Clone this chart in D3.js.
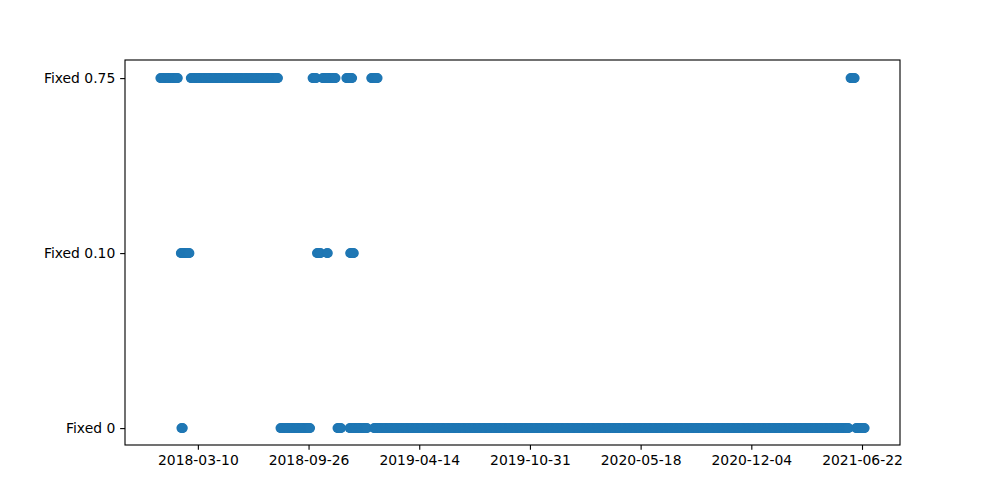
<!DOCTYPE html>
<html>
<head>
<meta charset="utf-8">
<script src="https://cdn.jsdelivr.net/npm/d3@7"></script>
<style>
  html, body { margin: 0; padding: 0; background: #fff; }
  svg { display: block; }
  text { font-family: "DejaVu Sans", sans-serif; }
</style>
</head>
<body>
<div id="chart"></div>
<script>
// Categories (y axis, bottom to top)
const categories = ["Fixed 0", "Fixed 0.10", "Fixed 0.75"];

// Daily category series, run-length encoded: each run is a block of consecutive days
const runStart    = ["2018-01-01","2018-02-25","2018-10-03","2018-10-21","2018-12-03","2019-01-17","2021-06-01",
                     "2018-02-07","2018-10-11","2018-10-29","2018-12-10",
                     "2018-02-08","2018-08-06","2018-11-17","2018-12-09","2019-01-22","2021-06-11"];
const runEnd      = ["2018-02-02","2018-08-02","2018-10-10","2018-11-14","2018-12-14","2019-01-29","2021-06-09",
                     "2018-02-23","2018-10-18","2018-10-31","2018-12-17",
                     "2018-02-11","2018-09-29","2018-11-24","2019-01-10","2021-05-29","2021-06-27"];
const runCategory = ["Fixed 0.75","Fixed 0.75","Fixed 0.75","Fixed 0.75","Fixed 0.75","Fixed 0.75","Fixed 0.75",
                     "Fixed 0.10","Fixed 0.10","Fixed 0.10","Fixed 0.10",
                     "Fixed 0","Fixed 0","Fixed 0","Fixed 0","Fixed 0","Fixed 0"];

// X tick labels
const xTickLabels = ["2018-03-10","2018-09-26","2019-04-14","2019-10-31","2020-05-18","2020-12-04","2021-06-22"];

const W = 1000, H = 500;
const margin = {left: 125, right: 100, top: 60, bottom: 55};
const plotW = W - margin.left - margin.right;
const plotH = H - margin.top - margin.bottom;
const pt = 100 / 72;

const parse = d3.utcParse("%Y-%m-%d");
const fmt = d3.utcFormat("%Y-%m-%d");

// Expand runs into daily points
const points = [];
runStart.forEach((s, i) => {
  const a = parse(s), b = parse(runEnd[i]);
  d3.utcDay.range(a, d3.utcDay.offset(b, 1)).forEach(d => points.push({date: d, cat: runCategory[i]}));
});

const ext = d3.extent(points, d => +d.date);
const pad = (ext[1] - ext[0]) * 0.05;
const x = d3.scaleUtc().domain([new Date(ext[0] - pad), new Date(ext[1] + pad)]).range([0, plotW]);
const catIndex = new Map(categories.map((c, i) => [c, i]));
const y = d3.scaleLinear().domain([-0.1, categories.length - 1 + 0.1]).range([plotH, 0]);

const svg = d3.select("#chart").append("svg").attr("width", W).attr("height", H);
const g = svg.append("g").attr("transform", `translate(${margin.left},${margin.top})`);

g.append("g").attr("transform", "translate(0,0.6)")
  .selectAll("circle").data(points).join("circle")
  .attr("cx", d => x(d.date))
  .attr("cy", d => y(catIndex.get(d.cat)))
  .attr("r", 4.85)
  .attr("fill", "#1f77b4");

// X axis
const xAxis = d3.axisBottom(x)
  .tickValues(xTickLabels.map(parse))
  .tickFormat(fmt)
  .tickSize(3.5 * pt)
  .tickPadding(3.5 * pt);
const gx = g.append("g").attr("transform", `translate(0,${plotH})`).call(xAxis);
gx.select(".domain").remove();
gx.selectAll("line").attr("stroke", "#000").attr("stroke-width", 0.8 * pt);
gx.selectAll("text").attr("font-size", "13.9px").attr("fill", "#000").attr("font-family", "DejaVu Sans");

// Y axis
const yAxis = d3.axisLeft(y)
  .tickValues(categories.map((c, i) => i))
  .tickFormat(i => categories[i])
  .tickSize(3.5 * pt)
  .tickPadding(3.5 * pt);
const gy = g.append("g").attr("transform", "translate(0,0.6)").call(yAxis);
gy.select(".domain").remove();
gy.selectAll("line").attr("stroke", "#000").attr("stroke-width", 0.8 * pt);
gy.selectAll("text").attr("font-size", "13.9px").attr("fill", "#000").attr("font-family", "DejaVu Sans");

// Frame
g.append("rect").attr("x", 0).attr("y", 0).attr("width", plotW).attr("height", plotH)
  .attr("fill", "none").attr("stroke", "#000").attr("stroke-width", 0.8 * pt);
</script>
</body>
</html>
